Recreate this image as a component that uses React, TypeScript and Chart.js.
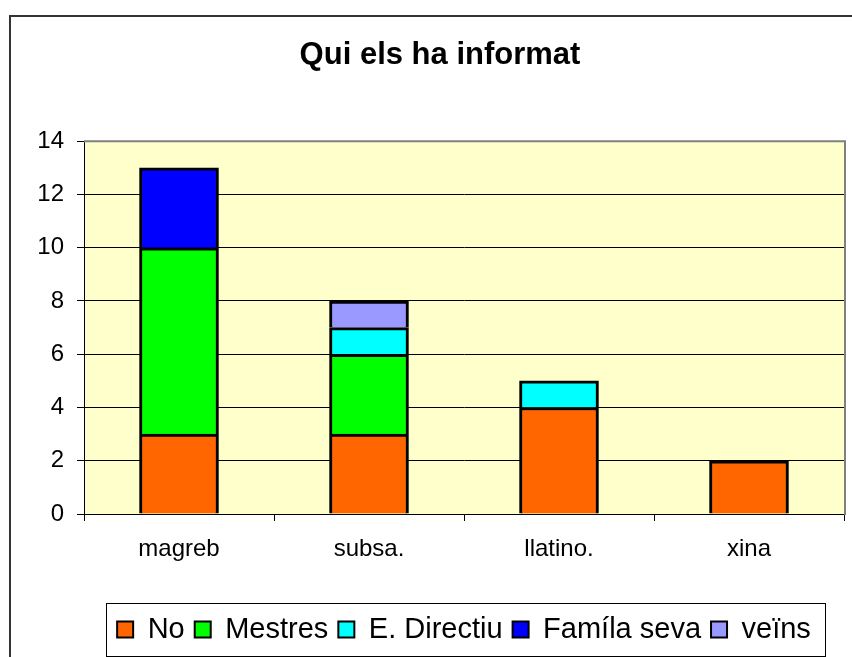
import React, { useEffect, useRef } from "react";
import { Chart, registerables } from "chart.js";

Chart.register(...registerables);

const TITLE = "Qui els ha informat";
const categories = ["magreb", "subsa.", "llatino.", "xina"];
const seriesNames = ["No", "Mestres", "E. Directiu", "Famíla seva", "veïns"];
const noValues = [3, 3, 4, 2];
const mestresValues = [7, 3, null, null];
const directiuValues = [null, 1, 1, null];
const familiaValues = [3, null, null, null];
const veinsValues = [null, 1, null, null];
const seriesColors = ["#FF6600", "#00FF00", "#00FFFF", "#0000FF", "#9999FF"];
const yTicks = [0, 2, 4, 6, 8, 10, 12, 14];

const FONT = "'Liberation Sans', Arial, sans-serif";

const framePlugin = {
  id: "excelFrame",
  beforeDraw(chart: any) {
    const { ctx, chartArea, width, height } = chart;
    ctx.save();
    ctx.fillStyle = "#FFFFFF";
    ctx.fillRect(0, 0, width, height);
    // outer chart border
    ctx.strokeStyle = "#333333";
    ctx.lineWidth = 2;
    ctx.beginPath();
    ctx.moveTo(10, height + 2);
    ctx.lineTo(10, 16);
    ctx.lineTo(width + 2, 16);
    ctx.stroke();
    // plot background
    ctx.fillStyle = "#FFFFCC";
    ctx.fillRect(chartArea.left, chartArea.top, chartArea.right - chartArea.left, chartArea.bottom - chartArea.top);
    ctx.restore();
  },
  beforeDatasetsDraw(chart: any) {
    const { ctx, chartArea } = chart;
    ctx.save();
    ctx.strokeStyle = "#808080";
    ctx.lineWidth = 2;
    ctx.beginPath();
    ctx.moveTo(chartArea.left, chartArea.top);
    ctx.lineTo(chartArea.right + 1, chartArea.top);
    ctx.lineTo(chartArea.right + 1, chartArea.bottom + 1);
    ctx.stroke();
    ctx.restore();
  },
  afterDraw(chart: any) {
    const legend = chart.legend;
    if (!legend || !legend.legendHitBoxes || !legend.legendHitBoxes.length) return;
    const hb = legend.legendHitBoxes;
    const first = hb[0];
    const last = hb[hb.length - 1];
    const left = first.left - 11;
    const right = last.left + last.width + 14;
    const cy = first.top + first.height / 2;
    const h = 53;
    const { ctx } = chart;
    ctx.save();
    ctx.strokeStyle = "#000000";
    ctx.lineWidth = 1;
    ctx.strokeRect(Math.round(left) + 0.5, Math.round(cy - h / 2) + 0.5, Math.round(right - left), h);
    ctx.restore();
  },
};

export default function App() {
  const canvasRef = useRef<HTMLCanvasElement | null>(null);

  useEffect(() => {
    if (!canvasRef.current) return;
    const values = [noValues, mestresValues, directiuValues, familiaValues, veinsValues];
    const chart = new Chart(canvasRef.current, {
      type: "bar",
      data: {
        labels: categories,
        datasets: seriesNames.map((name, i) => ({
          label: name,
          data: values[i] as any,
          backgroundColor: seriesColors[i],
          borderColor: "#000000",
          borderWidth: { top: 3, left: 3, right: 3, bottom: 0 } as any,
          borderSkipped: false,
          barThickness: 79,
        })),
      },
      options: {
        responsive: false,
        animation: false,
        devicePixelRatio: 1,
        layout: { padding: { left: 36, right: 8, top: 0, bottom: 3 } },
        plugins: {
          title: {
            display: true,
            text: TITLE,
            color: "#000000",
            font: { family: FONT, size: 31, weight: "bold" },
            padding: { top: 37, bottom: 67 },
          },
          legend: {
            display: true,
            position: "bottom",
            fullSize: false,
            labels: {
              color: "#000000",
              font: { family: FONT, size: 29 },
              boxWidth: 16,
              boxHeight: 16,
              padding: 10,
              generateLabels: (ch: any) =>
                ch.data.datasets.map((ds: any, i: number) => ({
                  text: ds.label,
                  fillStyle: ds.backgroundColor,
                  strokeStyle: "#000000",
                  lineWidth: 2,
                  hidden: false,
                  datasetIndex: i,
                  fontColor: "#000000",
                })),
            },
          },
          tooltip: { enabled: false },
        },
        scales: {
          x: {
            stacked: true,
            offset: true,
            grid: {
              display: true,
              drawOnChartArea: false,
              drawTicks: true,
              tickLength: 7,
              offset: true,
              color: "#000000",
            },
            border: { display: true, color: "#000000", width: 1 },
            ticks: {
              color: "#000000",
              font: { family: FONT, size: 24 },
              padding: 14,
              maxRotation: 0,
            },
            afterFit: (s: any) => {
              s.height = 91;
            },
          },
          y: {
            stacked: true,
            min: 0,
            max: 14,
            afterBuildTicks: (s: any) => {
              s.ticks = yTicks.map((v) => ({ value: v }));
            },
            grid: {
              display: true,
              drawTicks: true,
              tickLength: 7,
              color: "#000000",
              lineWidth: 1,
            },
            border: { display: true, color: "#000000", width: 1 },
            ticks: {
              color: "#000000",
              font: { family: FONT, size: 24 },
              padding: 13,
            },
            afterFit: (s: any) => {
              s.width = 48;
            },
          },
        },
      },
      plugins: [framePlugin],
    });
    return () => chart.destroy();
  }, []);

  return (
    <div style={{ position: "fixed", left: 0, top: 0, width: 852, height: 657, background: "#FFFFFF" }}>
      <canvas ref={canvasRef} width={852} height={657} style={{ display: "block" }} />
    </div>
  );
}
